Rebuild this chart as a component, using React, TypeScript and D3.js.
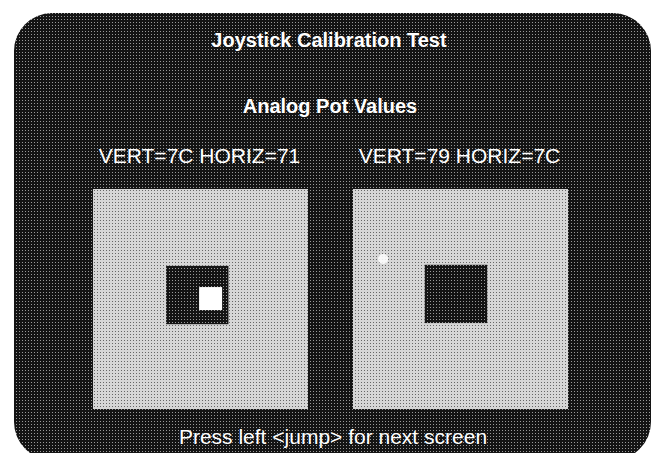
import * as d3 from "d3";

// screen text
const title = "Joystick Calibration Test";
const subtitle = "Analog Pot Values";
const footer = "Press left <jump> for next screen";

// one entry per joystick panel
const panels = ["left", "right"];
const vertValues = ["7C", "79"];
const horizValues = ["71", "7C"];

// cursor (dark square) centre, fraction of the pad
const cursorX = [0.485, 0.479];
const cursorY = [0.482, 0.477];
// white marker centre, fraction of the pad
const markerX = [0.547, 0.14];
const markerY = [0.498, 0.318];
const markerShape = ["square", "dot"];

const W = 655;
const H = 453;
const font = "'Liberation Sans', Arial, sans-serif";

export default function App() {
  const band = d3.scaleBand<string>().domain(panels).range([93, 568]).paddingInner(45 / 260);
  const padW = band.bandwidth();
  const padTop = 189;
  const padH = 220;

  const cursorW = padW * 0.29;
  const cursorH = padH * 0.265;
  const markerSize = padW * 0.107;

  return (
    <svg width={W} height={H} style={{ position: "absolute", left: 0, top: 0, display: "block" }}>
      <defs>
        <pattern id="darkTone" width={3} height={3} patternUnits="userSpaceOnUse">
          <rect width={3} height={3} fill="#141414" />
          <rect x={1} y={1} width={1} height={1} fill="#9a9a9a" />
        </pattern>
        <pattern id="lightTone" width={3} height={3} patternUnits="userSpaceOnUse">
          <rect width={3} height={3} fill="#d6d6d6" />
          <rect x={1} y={1} width={1} height={1} fill="#666666" />
        </pattern>
      </defs>
      <rect width={W} height={H} fill="#ffffff" />
      <rect x={14} y={13} width={637} height={447} rx={38} fill="url(#darkTone)" />

      <g fontFamily={font} fill="#ffffff" textAnchor="middle">
        <text x={329} y={47} fontSize={20} fontWeight="bold">{title}</text>
        <text x={330} y={113} fontSize={20} fontWeight="bold">{subtitle}</text>
        <text x={333} y={444} fontSize={21}>{footer}</text>
      </g>

      {panels.map((p, i) => {
        const x = d3.scaleLinear().domain([0, 1]).range([band(p)!, band(p)! + padW]);
        const y = d3.scaleLinear().domain([0, 1]).range([padTop, padTop + padH]);
        const cx = x(cursorX[i]);
        const cy = y(cursorY[i]);
        const mx = x(markerX[i]);
        const my = y(markerY[i]);
        return (
          <g key={p}>
            <text x={x(0.5) - 1} y={163} fontFamily={font} fontSize={21} fill="#ffffff" textAnchor="middle">
              {`VERT=${vertValues[i]} HORIZ=${horizValues[i]}`}
            </text>
            <rect x={x(0)} y={y(0)} width={padW} height={padH} fill="url(#lightTone)" />
            <rect x={cx - cursorW / 2} y={cy - cursorH / 2} width={cursorW} height={cursorH} fill="url(#darkTone)" />
            {markerShape[i] === "square" ? (
              <rect x={mx - markerSize / 2} y={my - markerSize / 2} width={markerSize} height={markerSize} fill="#ffffff" />
            ) : (
              <circle cx={mx} cy={my} r={5} fill="#ffffff" opacity={0.85} />
            )}
          </g>
        );
      })}
    </svg>
  );
}
